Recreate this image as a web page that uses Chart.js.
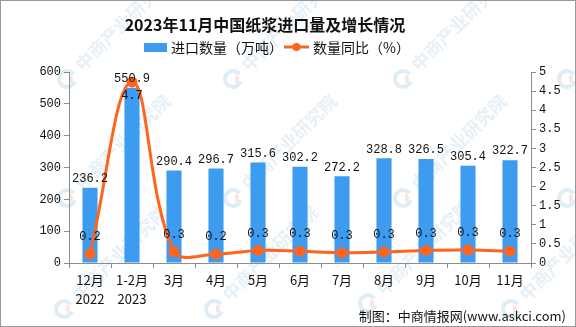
<!DOCTYPE html>
<html>
<head>
<meta charset="utf-8">
<script src="https://cdn.jsdelivr.net/npm/chart.js@4/dist/chart.umd.min.js"></script>
<style>
  html, body { margin: 0; padding: 0; background: #fff; }
  #wrap { width: 574px; height: 325px; border: 1px solid #999; position: relative; }
</style>
</head>
<body>
<div id="wrap"><canvas id="myChart" width="574" height="325"></canvas></div>
<script>
// 数据
var categories = [['12月', '2022'], ['1-2月', '2023'], '3月', '4月', '5月', '6月', '7月', '8月', '9月', '10月', '11月'];
var importVolume = [236.2, 550.9, 290.4, 296.7, 315.6, 302.2, 272.2, 328.8, 326.5, 305.4, 322.7];
var yoyGrowth = [0.24, 4.74, 0.30, 0.23, 0.33, 0.31, 0.27, 0.29, 0.33, 0.34, 0.31];
var leftTicks = [0, 100, 200, 300, 400, 500, 600];
var rightTicks = [0, 0.5, 1, 1.5, 2, 2.5, 3, 3.5, 4, 4.5, 5];

var BLUE = 'rgb(62,156,240)';
var ORANGE = 'rgb(255,100,30)';
var AXIS = '#8c8c8c';
var MONO = '"Liberation Mono", "DejaVu Sans Mono", monospace';
var CJK = '"Noto Sans CJK SC", "Noto Sans", sans-serif';

// 水印
var watermark = {
    id: 'watermark',
    beforeDraw: function(chart) {
        var c = chart.ctx;
        var spots = [[66, 78], [232, 78], [402, 78], [566, 78], [66, 197], [232, 197], [402, 197], [566, 197], [63, 308], [213, 308], [367, 302], [510, 308]];
        c.save();
        spots.forEach(function(p) {
            c.save();
            c.translate(p[0], p[1]);
            c.strokeStyle = 'rgba(150,195,230,0.3)';
            c.lineWidth = 4;
            c.beginPath();
            c.arc(0, 0, 8, 0.3, Math.PI * 1.8);
            c.stroke();
            c.fillStyle = 'rgba(245,170,150,0.3)';
            c.beginPath();
            c.arc(2, 0, 4, -Math.PI / 2, Math.PI / 2);
            c.fill();
            c.rotate(-Math.PI / 4);
            c.fillStyle = 'rgba(150,195,230,0.25)';
            c.font = 'bold 18px ' + CJK;
            c.textBaseline = 'middle';
            c.fillText('中商产业研究院', 16, 0);
            c.restore();
        });
        c.restore();
    }
};

// 标题、图例、数据标签、来源
var decorations = {
    id: 'decorations',
    afterDatasetsDraw: function(chart) {
        var c = chart.ctx;
        c.save();
        c.fillStyle = '#111';
        c.font = 'bold 16px ' + CJK;
        c.textAlign = 'center';
        c.textBaseline = 'middle';
        c.fillText('2023年11月中国纸浆进口量及增长情况', 264, 24);

        // legend
        c.fillStyle = BLUE;
        c.fillRect(143, 42, 23, 9);
        c.fillStyle = '#111';
        c.font = '14px ' + CJK;
        c.textAlign = 'left';
        c.fillText('进口数量（万吨）', 170, 47);
        c.strokeStyle = ORANGE;
        c.lineWidth = 3;
        c.beginPath();
        c.moveTo(283, 46);
        c.lineTo(308, 46);
        c.stroke();
        c.fillStyle = ORANGE;
        c.beginPath();
        c.arc(295.5, 46, 4, 0, Math.PI * 2);
        c.fill();
        c.fillStyle = '#111';
        c.fillText('数量同比（%）', 312, 47);

        // data labels
        var bars = chart.getDatasetMeta(0).data;
        var pts = chart.getDatasetMeta(1).data;
        c.font = '12px ' + MONO;
        c.textAlign = 'center';
        c.fillStyle = '#111';
        bars.forEach(function(b, i) {
            c.fillText(importVolume[i].toFixed(1), b.x, b.y - 9);
        });
        pts.forEach(function(p, i) {
            var y = p.y - 17;
            if (y < bars[i].y + 4) y = p.y + 14;
            c.fillText(yoyGrowth[i].toFixed(1), p.x, y);
        });

        // source
        c.font = '13px ' + CJK;
        c.textAlign = 'right';
        c.fillText('制图：中商情报网(www.askci.com)', 565, 315);
        c.restore();
    }
};

var ctx = document.getElementById('myChart');
if (ctx) {
    var myChart = new Chart(ctx, {
        type: 'bar',
        data: {
            labels: categories,
            datasets: [{
                type: 'bar',
                label: '进口数量（万吨）',
                data: importVolume,
                backgroundColor: BLUE,
                barPercentage: 0.72,
                categoryPercentage: 0.5,
                yAxisID: 'y',
                order: 2
            }, {
                type: 'line',
                label: '数量同比（%）',
                data: yoyGrowth,
                borderColor: ORANGE,
                backgroundColor: ORANGE,
                borderWidth: 3,
                pointRadius: 4,
                pointHoverRadius: 4,
                tension: 0.4,
                yAxisID: 'y1',
                order: 1
            }]
        },
        options: {
            responsive: false,
            animation: false,
            layout: { padding: { top: 71, left: 0, right: 0, bottom: 0 } },
            plugins: {
                legend: { display: false },
                title: { display: false },
                tooltip: { enabled: false }
            },
            scales: {
                x: {
                    grid: { display: true, drawOnChartArea: false, tickLength: 5, color: AXIS, offset: true },
                    border: { color: AXIS },
                    ticks: { color: '#111', font: { family: CJK, size: 13, lineHeight: 1.45 }, padding: 3, maxRotation: 0, autoSkip: false },
                    afterFit: function(s) { s.height = 63; }
                },
                y: {
                    position: 'left',
                    min: 0,
                    max: 600,
                    afterBuildTicks: function(s) { s.ticks = leftTicks.map(function(v) { return { value: v }; }); },
                    grid: { drawOnChartArea: false, tickLength: 5, color: AXIS },
                    border: { color: AXIS },
                    ticks: { color: '#111', font: { family: MONO, size: 12 }, padding: 3 },
                    afterFit: function(s) { s.width = 68; }
                },
                y1: {
                    position: 'right',
                    min: 0,
                    max: 5,
                    afterBuildTicks: function(s) { s.ticks = rightTicks.map(function(v) { return { value: v }; }); },
                    grid: { drawOnChartArea: false, tickLength: 5, color: AXIS },
                    border: { color: AXIS },
                    ticks: { color: '#111', font: { family: MONO, size: 12 }, padding: 3, callback: function(v) { return String(v); } },
                    afterFit: function(s) { s.width = 44; }
                }
            }
        },
        plugins: [watermark, decorations]
    });
}
</script>
</body>
</html>
